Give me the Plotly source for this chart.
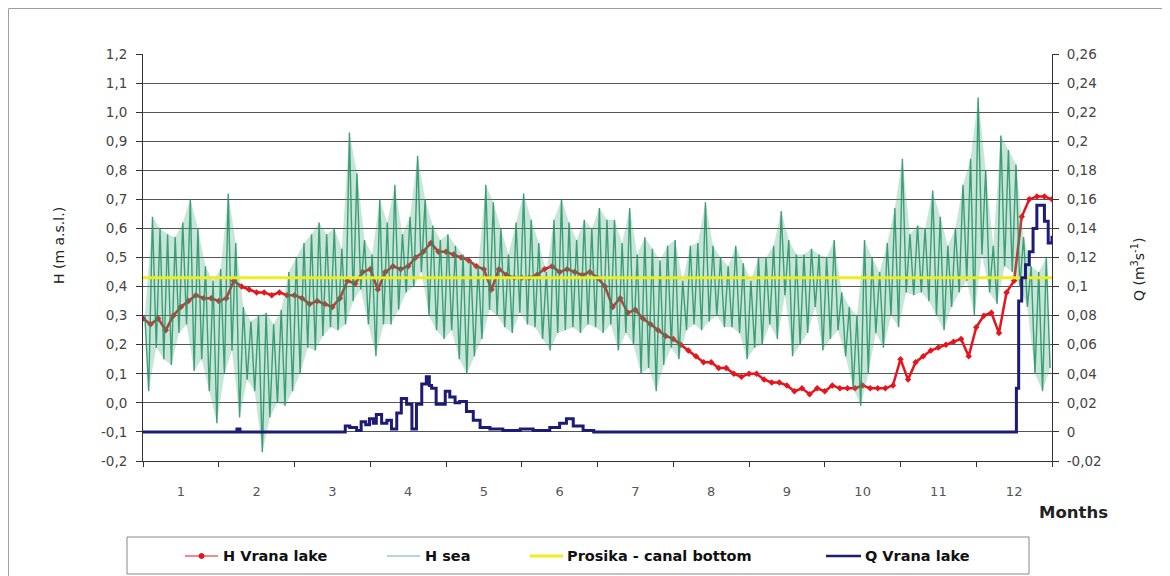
import plotly.graph_objects as go

# ---------------- data ----------------
month_labels = [str(i) for i in range(1, 13)]

# H Vrana lake (m a.s.l.), one reading every 0.1 month from month-axis 0.0 to 12.0
lake_h = [0.29, 0.27, 0.29, 0.25, 0.30, 0.33, 0.35, 0.37, 0.36, 0.36,
          0.35, 0.36, 0.42, 0.40, 0.39, 0.38, 0.38, 0.37, 0.38, 0.37,
          0.37, 0.36, 0.34, 0.35, 0.34, 0.33, 0.36, 0.42, 0.41, 0.45,
          0.46, 0.39, 0.45, 0.47, 0.46, 0.47, 0.50, 0.52, 0.55, 0.52,
          0.52, 0.51, 0.50, 0.49, 0.47, 0.46, 0.39, 0.46, 0.44, 0.43,
          0.43, 0.43, 0.44, 0.46, 0.47, 0.45, 0.46, 0.45, 0.44, 0.45,
          0.43, 0.40, 0.33, 0.36, 0.31, 0.32, 0.29, 0.27, 0.25, 0.23,
          0.22, 0.20, 0.18, 0.16, 0.14, 0.14, 0.12, 0.12, 0.10, 0.09,
          0.10, 0.10, 0.08, 0.07, 0.07, 0.06, 0.04, 0.05, 0.03, 0.05,
          0.04, 0.06, 0.05, 0.05, 0.05, 0.06, 0.05, 0.05, 0.05, 0.06,
          0.15, 0.08, 0.14, 0.16, 0.18, 0.19, 0.20, 0.21, 0.22, 0.16,
          0.26, 0.30, 0.31, 0.24, 0.38, 0.42, 0.64, 0.70, 0.71, 0.71,
          0.70]
lake_step = 0.1

# H sea (m a.s.l.): high and low reading in each 0.1-month interval
sea_hi = [0.30, 0.64, 0.60, 0.58, 0.57, 0.62, 0.70, 0.60, 0.47, 0.42,
          0.46, 0.72, 0.55, 0.33, 0.28, 0.30, 0.31, 0.27, 0.32, 0.45,
          0.50, 0.55, 0.58, 0.62, 0.58, 0.60, 0.53, 0.93, 0.79, 0.56,
          0.51, 0.70, 0.62, 0.75, 0.58, 0.64, 0.85, 0.70, 0.61, 0.56,
          0.58, 0.54, 0.51, 0.49, 0.47, 0.75, 0.69, 0.60, 0.51, 0.62,
          0.72, 0.63, 0.55, 0.45, 0.63, 0.70, 0.62, 0.56, 0.63, 0.60,
          0.67, 0.63, 0.63, 0.55, 0.67, 0.51, 0.57, 0.53, 0.49, 0.54,
          0.56, 0.42, 0.54, 0.55, 0.69, 0.54, 0.50, 0.47, 0.54, 0.48,
          0.42, 0.50, 0.50, 0.54, 0.66, 0.56, 0.51, 0.51, 0.53, 0.51,
          0.50, 0.56, 0.38, 0.33, 0.30, 0.56, 0.50, 0.45, 0.55, 0.67,
          0.84, 0.58, 0.61, 0.60, 0.73, 0.64, 0.54, 0.60, 0.75, 0.84,
          1.05, 0.80, 0.54, 0.92, 0.87, 0.82, 0.57, 0.47, 0.45, 0.50]
sea_lo = [0.04, 0.19, 0.15, 0.13, 0.24, 0.27, 0.11, 0.15, 0.04, -0.07,
          0.10, 0.18, -0.05, 0.08, 0.04, -0.17, -0.05, 0.00, -0.01, 0.04,
          0.10, 0.19, 0.18, 0.23, 0.26, 0.25, 0.27, 0.35, 0.39, 0.27,
          0.16, 0.27, 0.27, 0.32, 0.38, 0.40, 0.45, 0.30, 0.25, 0.22,
          0.25, 0.15, 0.10, 0.16, 0.22, 0.32, 0.30, 0.26, 0.24, 0.31,
          0.27, 0.26, 0.22, 0.18, 0.24, 0.25, 0.26, 0.24, 0.27, 0.26,
          0.24, 0.27, 0.18, 0.24, 0.20, 0.10, 0.12, 0.04, 0.13, 0.19,
          0.15, 0.25, 0.27, 0.25, 0.28, 0.30, 0.26, 0.26, 0.24, 0.15,
          0.19, 0.20, 0.27, 0.22, 0.37, 0.16, 0.20, 0.24, 0.33, 0.18,
          0.22, 0.25, 0.16, 0.05, -0.01, 0.10, 0.24, 0.19, 0.30, 0.26,
          0.38, 0.37, 0.38, 0.35, 0.30, 0.25, 0.33, 0.38, 0.42, 0.30,
          0.51, 0.38, 0.34, 0.47, 0.45, 0.40, 0.33, 0.10, 0.04, 0.12]
sea_step = 0.1

# Prosika - canal bottom (m a.s.l.)
prosika_h = 0.43

# Q Vrana lake (m3/s) at month-axis positions
q_months = [0.0, 1.20, 1.24, 1.28, 2.60, 2.67, 2.73, 2.82, 2.88, 2.94, 2.99,
            3.04, 3.08, 3.15, 3.22, 3.28, 3.35, 3.41, 3.48, 3.55, 3.61, 3.68,
            3.74, 3.78, 3.81, 3.87, 3.92, 3.99, 4.05, 4.12, 4.18, 4.27, 4.36,
            4.45, 4.58, 4.75, 4.98, 5.15, 5.37, 5.50, 5.59, 5.68, 5.81, 5.95,
            11.50, 11.53, 11.56, 11.60, 11.65, 11.70, 11.75, 11.80, 11.85,
            11.90, 11.95, 12.0]
q_vals = [0.0, 0.0, 0.002, 0.0, 0.0, 0.004, 0.003, 0.001, 0.007, 0.005, 0.009,
          0.006, 0.012, 0.006, 0.008, 0.002, 0.013, 0.023, 0.019, 0.002, 0.019,
          0.033, 0.038, 0.032, 0.030, 0.019, 0.019, 0.028, 0.024, 0.020, 0.021,
          0.014, 0.008, 0.003, 0.002, 0.001, 0.002, 0.001, 0.003, 0.006, 0.009,
          0.004, 0.001, 0.0,
          0.0, 0.030, 0.090, 0.106, 0.115, 0.124, 0.140, 0.156, 0.156,
          0.145, 0.130, 0.135]

h_ticks = [-0.2, -0.1, 0.0, 0.1, 0.2, 0.3, 0.4, 0.5, 0.6, 0.7, 0.8, 0.9, 1.0, 1.1, 1.2]
h_ticktext = ["-0,2", "-0,1", "0,0", "0,1", "0,2", "0,3", "0,4", "0,5", "0,6",
              "0,7", "0,8", "0,9", "1,0", "1,1", "1,2"]
q_ticks = [-0.02, 0.0, 0.02, 0.04, 0.06, 0.08, 0.10, 0.12, 0.14, 0.16, 0.18,
           0.20, 0.22, 0.24, 0.26]
q_ticktext = ["-0,02", "0", "0,02", "0,04", "0,06", "0,08", "0,1", "0,12",
              "0,14", "0,16", "0,18", "0,2", "0,22", "0,24", "0,26"]

legend_names = ["H Vrana lake", "H sea", "Prosika - canal bottom", "Q Vrana lake"]

# ---------------- colours / layout constants ----------------
RED = "#e8141c"
GREEN = "rgba(34,146,100,0.85)"
GREEN_FILL = "rgba(70,170,125,0.30)"
YELLOW = "#eeee1e"
NAVY = "#1c1c78"
FONT = "DejaVu Sans"

OFF = 8                      # page body margin of the html page
W, H = 1170, 576
L, T = 135, 46
PW, PH = 909, 407
R, B = W - L - PW, H - T - PH


def px(xs):
    """screen x pixel -> paper coordinate"""
    return (xs - OFF - L) / PW


def py(ys):
    """screen y pixel -> paper coordinate"""
    return (T + PH - (ys - OFF)) / PH


lake_x = [i * lake_step for i in range(len(lake_h))]
sea_x, sea_y = [], []
for k, (hi, lo) in enumerate(zip(sea_hi, sea_lo)):
    sea_x += [k * sea_step + 0.25 * sea_step, k * sea_step + 0.75 * sea_step]
    sea_y += [hi, lo]
band_x_hi = [k * sea_step + 0.25 * sea_step for k in range(len(sea_hi))]
band_x_lo = [k * sea_step + 0.75 * sea_step for k in range(len(sea_lo))]

fig = go.Figure()
fig.add_trace(go.Scatter(x=lake_x, y=lake_h, mode="lines+markers", name=legend_names[0],
                         line=dict(color=RED, width=2.5),
                         marker=dict(color=RED, size=5, symbol="diamond"),
                         showlegend=False))
# light band between the highs and lows of the sea level
fig.add_trace(go.Scatter(x=band_x_hi + band_x_lo[::-1], y=sea_hi + sea_lo[::-1],
                         mode="lines", fill="toself", fillcolor=GREEN_FILL,
                         line=dict(width=0), hoverinfo="skip", showlegend=False))
fig.add_trace(go.Scatter(x=sea_x, y=sea_y, mode="lines", name=legend_names[1],
                         line=dict(color=GREEN, width=1.4), showlegend=False))
fig.add_trace(go.Scatter(x=[0, 12], y=[prosika_h, prosika_h], mode="lines",
                         name=legend_names[2], line=dict(color=YELLOW, width=3),
                         showlegend=False))
fig.add_trace(go.Scatter(x=q_months, y=q_vals, mode="lines", name=legend_names[3],
                         line=dict(color=NAVY, width=3, shape="hv"), yaxis="y2",
                         showlegend=False))

shapes = []
annotations = []
# outer frame
shapes.append(dict(type="rect", xref="paper", yref="paper", x0=px(8.5), x1=px(1163),
                   y0=py(590), y1=py(8.5), line=dict(color="#a0a0a0", width=1)))
# manual legend box
shapes.append(dict(type="rect", xref="paper", yref="paper", x0=px(127), x1=px(1029),
                   y0=py(574), y1=py(537), line=dict(color="#888888", width=1),
                   fillcolor="white"))
ly = py(556)
leg_items = [
    (185, 218, RED, 1.2, 221),
    (387, 420, "rgba(38,150,104,0.7)", 1, 423),
    (530, 563, YELLOW, 3, 565),
    (826, 861, NAVY, 2.5, 863),
]
for (x0, x1, col, w, tx), name in zip(leg_items, legend_names):
    shapes.append(dict(type="line", xref="paper", yref="paper", x0=px(x0), x1=px(x1),
                       y0=ly, y1=ly, line=dict(color=col, width=w)))
    annotations.append(dict(text="<b>%s</b>" % name, xref="paper", yref="paper",
                            x=px(tx), y=ly, xanchor="left", yanchor="middle",
                            showarrow=False, font=dict(family=FONT, size=14.5, color="#111")))
# red legend marker
shapes.append(dict(type="circle", xref="paper", yref="paper",
                   x0=px(199), x1=px(204), y0=py(558.5), y1=py(553.5),
                   line=dict(color=RED, width=1), fillcolor=RED))

annotations.append(dict(text="H (m a.s.l.)", xref="paper", yref="paper", x=px(59), y=py(246),
                        textangle=-90, showarrow=False, xanchor="center", yanchor="middle",
                        font=dict(family=FONT, size=14, color="#222")))
annotations.append(dict(text="Q (m<sup>3</sup>s<sup>-1</sup>)", xref="paper", yref="paper",
                        x=px(1138), y=py(270), textangle=-90, showarrow=False,
                        xanchor="center", yanchor="middle",
                        font=dict(family=FONT, size=14, color="#222")))
annotations.append(dict(text="<b>Months</b>", xref="paper", yref="paper", x=px(1073), y=py(512),
                        showarrow=False, xanchor="center", yanchor="middle",
                        font=dict(family=FONT, size=16.5, color="#222")))

fig.update_layout(
    width=W, height=H,
    margin=dict(l=L, r=R, t=T, b=B, autoexpand=False),
    paper_bgcolor="white", plot_bgcolor="white",
    font=dict(family=FONT, size=13, color="#444"),
    showlegend=False,
    shapes=shapes, annotations=annotations,
    xaxis=dict(range=[0, 12], tickmode="array",
               tickvals=[i + 0.5 for i in range(12)], ticktext=month_labels,
               ticks="", showgrid=False, zeroline=False,
               showline=True, linecolor="#333", linewidth=1,
               ticklabelstandoff=18,
               tickfont=dict(family=FONT, size=13, color="#555"),
               minor=dict(tickmode="array", tickvals=list(range(13)), ticks="outside",
                          ticklen=5, tickcolor="#333", tickwidth=1, showgrid=False)),
    yaxis=dict(range=[-0.2, 1.2], tickmode="array", tickvals=h_ticks, ticktext=h_ticktext,
               ticks="outside", ticklen=6, tickcolor="#333",
               showgrid=True, gridcolor="#555", gridwidth=1, zeroline=False,
               showline=True, linecolor="#333", linewidth=1,
               ticklabelstandoff=6,
               tickfont=dict(family=FONT, size=13.5, color="#444")),
    yaxis2=dict(range=[-0.02, 0.26], overlaying="y", side="right", tickmode="array",
                tickvals=q_ticks, ticktext=q_ticktext, ticks="outside", ticklen=6,
                tickcolor="#333", showgrid=False, zeroline=False,
                showline=True, linecolor="#333", linewidth=1,
                ticklabelstandoff=5,
                tickfont=dict(family=FONT, size=13.5, color="#444")),
)

fig.write_html("out.html")
